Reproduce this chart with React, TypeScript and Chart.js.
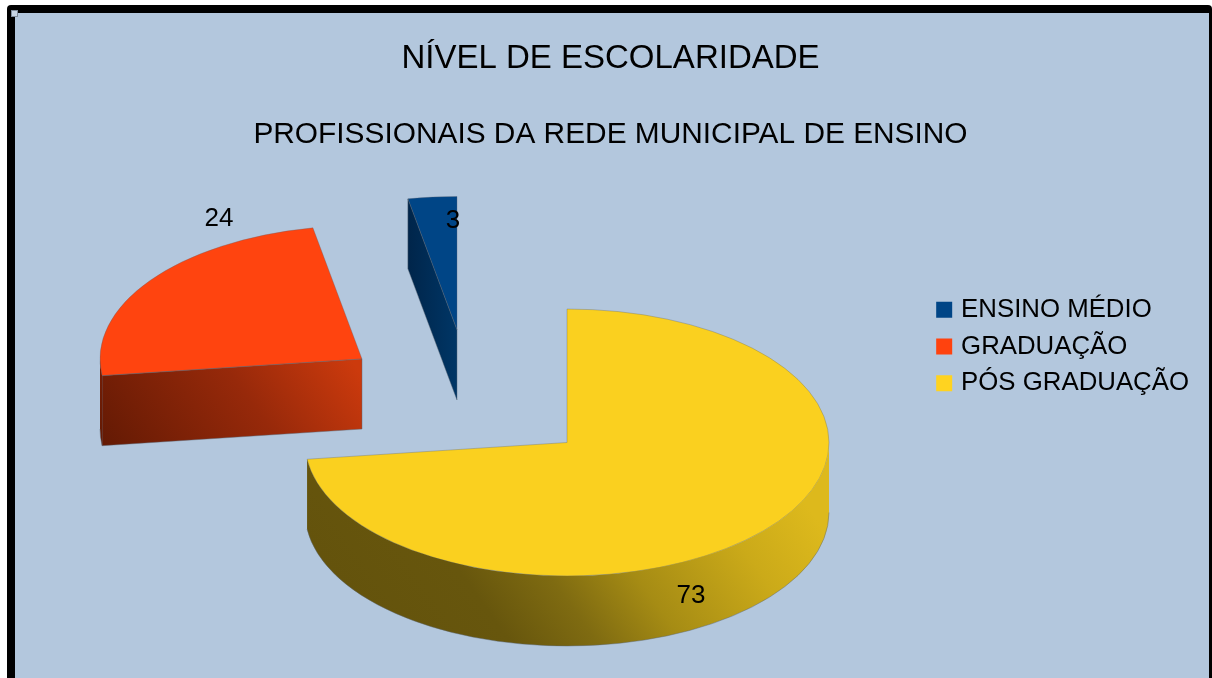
import React, { useEffect, useRef } from "react";
import { Chart, registerables } from "chart.js";

Chart.register(...registerables);

const titleText = "NÍVEL DE ESCOLARIDADE";
const subtitleText = "PROFISSIONAIS DA REDE MUNICIPAL DE ENSINO";
const categories = ["PÓS GRADUAÇÃO", "GRADUAÇÃO", "ENSINO MÉDIO"];
const values = [73, 24, 3];
const legendColors = ["#FFD320", "#FF420E", "#004586"];
const topColors = ["#FAD01F", "#FF440F", "#004586"];
const sideStops: [number, string][][] = [
  [[0, "#63520C"], [0.22, "#67560D"], [0.33, "#7F6B11"], [0.44, "#A68C14"], [0.6, "#CBAA19"], [0.72, "#DDB91C"], [1, "#DDB91C"]],
  [[0, "#641A04"], [0.45, "#97290A"], [0.78, "#CC3A0D"], [1, "#CC3A0D"]],
  [[0, "#00254A"], [1, "#003666"]],
];
// gradient line per slice: start height below the apex, and rise across the slice
const sideGradientY = [[158, -373], [81, -187], [35, 0]];
// Pie geometry on the page: ellipse centre, radii, wall depth.
const centre = { x: 567, y: 442.5, rx: 262, ry: 133.5, depth: 70 };
const explode = [[0, 0], [-205, -83.5], [-110, -112.5]];
const labelOffsets = [[124, 153], [-143, -140], [-4, -109]];

const FONT = "'Liberation Sans', Arial, sans-serif";

const pie3d = {
  id: "pie3d",
  beforeDraw(chart: any) {
    const { ctx, width, height } = chart;
    ctx.save();
    ctx.fillStyle = "#ffffff";
    ctx.fillRect(0, 0, width, height);
    ctx.fillStyle = "#000000";
    ctx.beginPath();
    ctx.roundRect(7, 5, width - 7, height, 4);
    ctx.fill();
    ctx.fillStyle = "#B3C7DD";
    ctx.fillRect(15, 13, width - 18, height);
    ctx.restore();
  },
  beforeDatasetDraw(chart: any, args: any) {
    const { ctx } = chart;
    const arcs = chart.getDatasetMeta(args.index).data;
    const order = [2, 1, 0];
    for (const i of order) {
      const arc = arcs[i];
      const cx = centre.x + explode[i][0];
      const cy = centre.y + explode[i][1];
      const outer = arc.outerRadius;
      // top face: the library's own arc, squashed into an ellipse
      ctx.save();
      ctx.translate(cx, cy);
      ctx.scale(centre.rx / outer, centre.ry / outer);
      ctx.translate(-arc.x, -arc.y);
      arc.draw(ctx);
      ctx.restore();

      const a = arc.startAngle;
      const b = arc.endAngle;
      const px = (t: number) => cx + centre.rx * Math.cos(t);
      const py = (t: number) => cy + centre.ry * Math.sin(t);
      const xs = [cx, px(a), px(b)];
      const left = Math.min(...xs, a < Math.PI && b > Math.PI ? cx - centre.rx : cx);
      const right = Math.max(...xs, a < 0 && b > 0 ? cx + centre.rx : cx);
      const gy = cy + sideGradientY[i][0];
      const grad = ctx.createLinearGradient(left, gy, right, gy + sideGradientY[i][1]);
      for (const [o, c] of sideStops[i]) grad.addColorStop(o, c);
      ctx.save();
      ctx.fillStyle = grad;
      ctx.strokeStyle = "rgba(90,100,115,0.55)";
      ctx.lineWidth = 0.8;
      // cut face
      const face = (t: number) => {
        ctx.beginPath();
        ctx.moveTo(cx, cy);
        ctx.lineTo(px(t), py(t));
        ctx.lineTo(px(t), py(t) + centre.depth);
        ctx.lineTo(cx, cy + centre.depth);
        ctx.closePath();
        ctx.fill();
        ctx.stroke();
      };
      if (Math.cos(a) < -1e-6) face(a);
      if (Math.cos(b) > 1e-6) face(b);
      // outer wall
      const from = Math.max(a, 0);
      const to = Math.min(b, Math.PI);
      if (to > from) {
        ctx.beginPath();
        ctx.ellipse(cx, cy, centre.rx, centre.ry, 0, from, to);
        ctx.ellipse(cx, cy + centre.depth, centre.rx, centre.ry, 0, to, from, true);
        ctx.closePath();
        ctx.fill();
        ctx.beginPath();
        ctx.ellipse(cx, cy + centre.depth, centre.rx, centre.ry, 0, from, to);
        ctx.stroke();
      }
      ctx.restore();
    }
    // value labels
    ctx.save();
    ctx.fillStyle = "#000000";
    ctx.font = `26px ${FONT}`;
    ctx.textAlign = "center";
    ctx.textBaseline = "middle";
    values.forEach((v, i) => {
      const x = centre.x + explode[i][0] + labelOffsets[i][0];
      const y = centre.y + explode[i][1] + labelOffsets[i][1];
      ctx.fillText(String(v), x, y);
    });
    ctx.restore();
    // selection handle
    ctx.save();
    ctx.fillStyle = "#C7D5E5";
    ctx.strokeStyle = "#7F8C9C";
    ctx.lineWidth = 1;
    ctx.fillRect(11, 10, 7, 7);
    ctx.strokeRect(11.5, 10.5, 6, 6);
    ctx.restore();
    return false;
  },
};

export default function App() {
  const ref = useRef<HTMLCanvasElement>(null);
  useEffect(() => {
    document.body.style.margin = "0";
    const chart = new Chart(ref.current as HTMLCanvasElement, {
      type: "pie",
      data: {
        labels: categories,
        datasets: [
          {
            data: values,
            backgroundColor: topColors,
            borderColor: "rgba(90,100,115,0.55)",
            borderWidth: 0.8,
          },
        ],
      },
      plugins: [pie3d],
      options: {
        responsive: false,
        animation: false,
        rotation: 0,
        layout: { padding: { left: 22, right: 13, top: 15, bottom: 0 } },
        plugins: {
          tooltip: { enabled: false },
          title: {
            display: true,
            text: titleText,
            color: "#000000",
            font: { family: FONT, size: 33, weight: "normal" },
            padding: { top: 24.2, bottom: 38.2 },
          },
          subtitle: {
            display: true,
            text: subtitleText,
            color: "#000000",
            font: { family: FONT, size: 29.85, weight: "normal" },
            padding: { top: 0, bottom: 0 },
          },
          legend: {
            position: "right",
            reverse: true,
            labels: {
              color: "#000000",
              font: { family: FONT, size: 25.8 },
              boxWidth: 8,
              boxHeight: 8,
              padding: 11,
              generateLabels: () =>
                categories.map((text, i) => ({
                  text,
                  fillStyle: legendColors[i],
                  strokeStyle: legendColors[i],
                  lineWidth: 8,
                  hidden: false,
                  index: i,
                })),
            },
          },
        },
      },
    } as any);
    return () => chart.destroy();
  }, []);
  return <canvas ref={ref} width={1212} height={678} style={{ display: "block" }} />;
}
